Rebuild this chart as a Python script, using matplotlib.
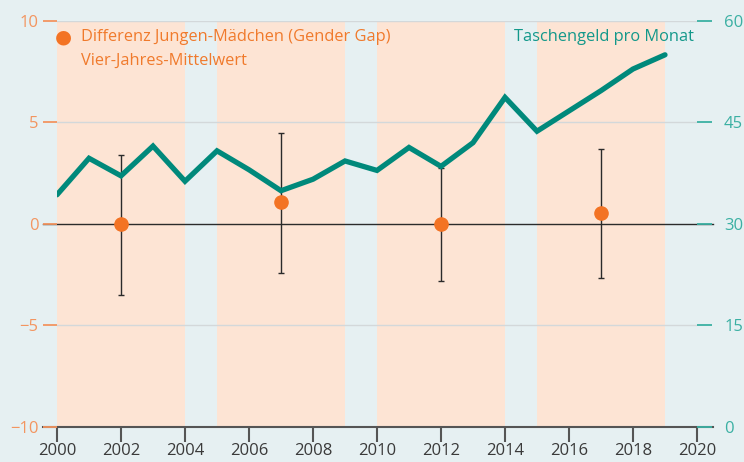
import matplotlib
matplotlib.use("Agg")
import matplotlib.pyplot as plt

plt.rcParams['font.family'] = ['Open Sans', 'DejaVu Sans']

years = list(range(2000, 2020))
taschengeld = [34.3, 39.7, 37.1, 41.5, 36.3, 40.8, 38.0, 34.9, 36.6, 39.3,
               37.9, 41.3, 38.5, 42.0, 48.7, 43.7, 46.7, 49.7, 52.9, 55.0]

gap_years = [2002, 2007, 2012, 2017]
gap_values = [0.0, 1.06, 0.0, 0.53]
gap_low = [-3.53, -2.43, -2.82, -2.69]
gap_high = [3.41, 4.49, 2.77, 3.67]

bands = [(2000, 2004), (2005, 2009), (2010, 2014), (2015, 2019)]

left_ticks = [-10, -5, 0, 5, 10]
right_ticks = [0, 15, 30, 45, 60]
x_ticks = list(range(2000, 2021, 2))

BG = '#e6f0f2'
PEACH = '#fde4d4'
ORANGE = '#f37324'
ORANGE_TXT = '#f07a2c'
ORANGE_TICK = '#f39560'
TEAL = '#00897b'
TEAL_TXT = '#13988a'
TEAL_TICK = '#3bb0a3'

fig = plt.figure(figsize=(7.44, 4.62), dpi=100, facecolor=BG)
ax = fig.add_axes([57/744, 1-426.7/462, 640/744, (426.7-21)/462])
ax.set_facecolor(BG)
ax.set_xlim(2000, 2020)
ax.set_ylim(-10, 10)

for a, b in bands:
    ax.axvspan(a, b, color=PEACH, zorder=0, lw=0)

for y in [-5, 5, 10]:
    ax.axhline(y, color='#d3d8da', lw=1, zorder=0.5)
ax.axhline(0, xmin=-0.022, xmax=1.025, color='#2b2b2b', lw=1, zorder=1, clip_on=False)
ax.axhline(-10, xmin=-0.022, xmax=1.025, color='#555555', lw=1.5, zorder=1, clip_on=False)

for s in ax.spines.values():
    s.set_visible(False)

ax.set_yticks(left_ticks)
ax.set_yticklabels(['\u221210', '\u22125', '0', '5', '10'])
ax.tick_params(axis='y', colors=ORANGE_TICK, length=10, width=1.3, pad=3.5, labelsize=12)
ax.set_xticks(x_ticks)
ax.tick_params(axis='x', colors='#555555', labelcolor='#3a3a3a', length=11, width=1.5, pad=1, labelsize=12)

# error bars
yerr = [[v - lo for v, lo in zip(gap_values, gap_low)],
        [hi - v for v, hi in zip(gap_values, gap_high)]]
ax.errorbar(gap_years, gap_values, yerr=yerr, fmt='none', ecolor='#2a2a2a',
            elinewidth=1, capsize=2.5, capthick=1, zorder=3)

ax2 = ax.twinx()
ax2.set_ylim(0, 60)
ax2.set_xlim(2000, 2020)
for s in ax2.spines.values():
    s.set_visible(False)
ax2.set_yticks(right_ticks)
ax2.tick_params(axis='y', colors=TEAL_TICK, length=11, width=1.3, pad=8.5, labelsize=12)
ax2.plot(years, taschengeld, color=TEAL, lw=3.8, solid_joinstyle='miter', solid_capstyle='round', zorder=4)

# points on top
ax3 = ax.twinx()
ax3.set_ylim(-10, 10)
ax3.set_axis_off()
ax3.plot(gap_years, gap_values, 'o', color=ORANGE, ms=9.5, zorder=5)

# legend texts
fig.text(63/744, 1-37/462, '\u25cf', color=ORANGE, fontsize=14, ha='center', va='center',
         family='DejaVu Sans')
fig.text(81/744, 1-37/462, 'Differenz Jungen-Mädchen (Gender Gap)', color=ORANGE_TXT,
         fontsize=11.8, ha='left', va='center')
fig.text(81/744, 1-61/462, 'Vier-Jahres-Mittelwert', color=ORANGE_TXT,
         fontsize=11.8, ha='left', va='center')
fig.text(694/744, 1-37/462, 'Taschengeld pro Monat', color=TEAL_TXT,
         fontsize=11.8, ha='right', va='center')

fig.savefig('out.png', dpi=100, facecolor=BG)
